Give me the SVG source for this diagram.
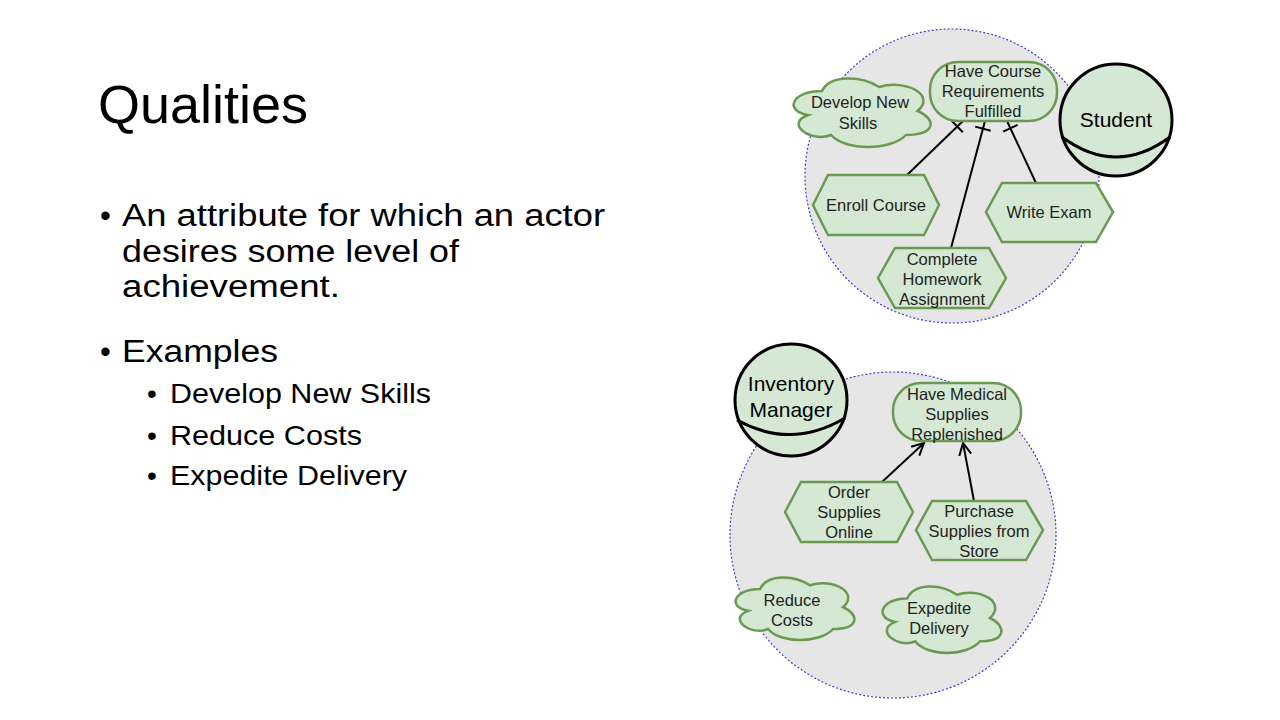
<svg xmlns="http://www.w3.org/2000/svg" width="1280" height="720" viewBox="0 0 1280 720">
<defs>
<style>
.title{font-family:"Liberation Sans",Arial,sans-serif;font-size:54px;fill:#000}
.b1{font-family:"Liberation Sans",Arial,sans-serif;font-size:31px;fill:#000}
.b2{font-family:"Liberation Sans",Arial,sans-serif;font-size:28px;fill:#000}
.bound{fill:#e6e6e6;stroke:#3b3bd0;stroke-width:1.2;stroke-dasharray:2 2}
.actor{fill:#d5e8d4;stroke:#000;stroke-width:3}
.arc{fill:none;stroke:#000;stroke-width:3}
.el{fill:#d5e8d4;stroke:#6a9a52;stroke-width:2.5}
.t{font-family:"Liberation Sans",Arial,sans-serif;font-size:16.5px;fill:#222;text-anchor:middle}
.ta{font-family:"Liberation Sans",Arial,sans-serif;font-size:21px;fill:#000;text-anchor:middle}
.link{fill:none;stroke:#000;stroke-width:2}
</style>
<marker id="andbar" markerUnits="userSpaceOnUse" markerWidth="20" markerHeight="20" viewBox="0 0 20 20" refX="18" refY="10" orient="auto">
<path d="M10,2 L10,18" stroke="#000" stroke-width="2" fill="none"/>
</marker>
<marker id="open" markerUnits="userSpaceOnUse" markerWidth="14" markerHeight="14" viewBox="0 0 14 14" refX="13" refY="7" orient="auto">
<path d="M1,1 L13,7 L1,13" stroke="#000" stroke-width="2" fill="none"/>
</marker>
</defs>
<rect width="1280" height="720" fill="#fff"/>

<g id="text-left">
<text class="title" x="98" y="123">Qualities</text>
<text class="b1" x="105.5" y="226" text-anchor="middle">•</text>
<text class="b1" x="122" y="226" textLength="483" lengthAdjust="spacingAndGlyphs">An attribute for which an actor</text>
<text class="b1" x="122" y="261.5" textLength="337" lengthAdjust="spacingAndGlyphs">desires some level of</text>
<text class="b1" x="122" y="297" textLength="218" lengthAdjust="spacingAndGlyphs">achievement.</text>
<text class="b1" x="105.5" y="361.7" text-anchor="middle">•</text>
<text class="b1" x="122" y="361.7" textLength="156" lengthAdjust="spacingAndGlyphs">Examples</text>
<text class="b2" x="152" y="403.3" text-anchor="middle">•</text>
<text class="b2" x="170" y="403.3" textLength="261" lengthAdjust="spacingAndGlyphs">Develop New Skills</text>
<text class="b2" x="152" y="445" text-anchor="middle">•</text>
<text class="b2" x="170" y="445" textLength="192" lengthAdjust="spacingAndGlyphs">Reduce Costs</text>
<text class="b2" x="152" y="485" text-anchor="middle">•</text>
<text class="b2" x="170" y="485" textLength="237" lengthAdjust="spacingAndGlyphs">Expedite Delivery</text>
</g>

<g id="student-boundary"><circle class="bound" cx="952" cy="176" r="147"/></g>
<g id="inventory-boundary"><circle class="bound" cx="893" cy="535" r="163"/></g>

<g id="student">
<circle class="actor" cx="1116" cy="120" r="56"/>
<path class="arc" d="M1062,137 Q1116,177 1170,137"/>
<text class="ta" x="1116" y="127">Student</text>
</g>

<g id="inventory-manager">
<circle class="actor" cx="791" cy="400" r="56"/>
<path class="arc" d="M737,420 Q791,450 845,418"/>
<text class="ta" x="791" y="391">Inventory</text>
<text class="ta" x="791" y="417">Manager</text>
</g>

<g id="connectors">
<path class="link" d="M907,175 L963,121" marker-end="url(#andbar)"/>
<path class="link" d="M951,248 L985,121" marker-end="url(#andbar)"/>
<path class="link" d="M1036,183 L1007,121" marker-end="url(#andbar)"/>
<path class="link" d="M882,482 L924,443" marker-end="url(#open)"/>
<path class="link" d="M974,501 L963,443" marker-end="url(#open)"/>
</g>

<g id="goal-course">
<rect class="el" x="930" y="62" width="127" height="59" rx="28"/>
<text class="t" x="993" y="77">Have Course</text>
<text class="t" x="993" y="97">Requirements</text>
<text class="t" x="993" y="117">Fulfilled</text>
</g>

<g id="quality-develop">
<path class="el" d="M822,91 C791.4,91 783.8,111 808.2,115 C783.8,123.8 811.3,143 831.2,135 C844.9,151 890.8,151 906,135 C936.6,135 936.6,119 917.5,111 C936.6,95 906,79 879.3,87 C860.2,75 829.6,75 822,91 Z"/>
<text class="t" x="860" y="108">Develop New</text>
<text class="t" x="858" y="129">Skills</text>
</g>

<g id="task-enroll">
<polygon class="el" points="813,205 828,175 924,175 939,205 924,235 828,235"/>
<text class="t" x="876" y="211">Enroll Course</text>
</g>

<g id="task-write">
<polygon class="el" points="986,212 1002,183 1096,183 1113,212 1096,242 1002,242"/>
<text class="t" x="1049" y="218">Write Exam</text>
</g>

<g id="task-homework">
<polygon class="el" points="878,278 895,248 989,248 1006,278 989,308 895,308"/>
<text class="t" x="942" y="265">Complete</text>
<text class="t" x="942" y="285">Homework</text>
<text class="t" x="942" y="305">Assignment</text>
</g>

<g id="goal-medical">
<rect class="el" x="893" y="383" width="128" height="58" rx="28"/>
<text class="t" x="957" y="400">Have Medical</text>
<text class="t" x="957" y="420">Supplies</text>
<text class="t" x="957" y="440">Replenished</text>
</g>

<g id="task-order">
<polygon class="el" points="785,512 801,482 897,482 913,512 897,542 801,542"/>
<text class="t" x="849" y="498">Order</text>
<text class="t" x="849" y="518">Supplies</text>
<text class="t" x="849" y="538">Online</text>
</g>

<g id="task-purchase">
<polygon class="el" points="916,530 932,501 1026,501 1043,530 1026,560 932,560"/>
<text class="t" x="979" y="517">Purchase</text>
<text class="t" x="979" y="537">Supplies from</text>
<text class="t" x="979" y="557">Store</text>
</g>

<g id="quality-reduce">
<path class="el" d="M760.2,588.9 C733.6,588.9 727,607.2 748.2,610.8 C727,618.8 750.9,636.3 768.1,629 C780,643.6 819.8,643.6 833.1,629 C859.6,629 859.6,614.4 843,607.2 C859.6,592.6 833.1,578 809.9,585.3 C793.3,574.3 766.8,574.3 760.2,588.9 Z"/>
<text class="t" x="792" y="606">Reduce</text>
<text class="t" x="792" y="626">Costs</text>
</g>

<g id="quality-expedite">
<path class="el" d="M907.2,598.6 C880.6,598.6 874,618 895.2,621.9 C874,630.4 897.9,649 915.1,641.3 C927,656.8 966.8,656.8 980.1,641.3 C1006.6,641.3 1006.6,625.8 990,618 C1006.6,602.5 980.1,587 956.9,594.7 C940.3,583.1 913.8,583.1 907.2,598.6 Z"/>
<text class="t" x="939" y="614">Expedite</text>
<text class="t" x="939" y="634">Delivery</text>
</g>
</svg>
